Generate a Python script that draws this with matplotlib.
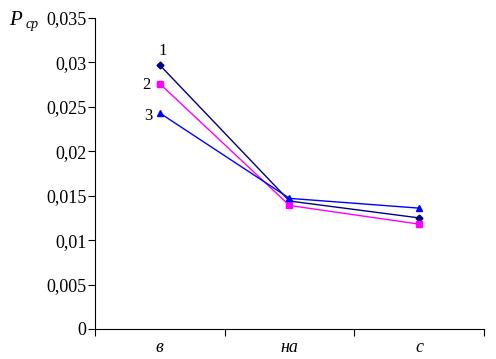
import numpy as np
import matplotlib
matplotlib.use("Agg")
import matplotlib.pyplot as plt
from matplotlib.ticker import FixedLocator

plt.rcParams['font.family'] = ['Liberation Serif', 'DejaVu Serif']
SERIF = "Liberation Serif"

categories = ["в", "на", "с"]
series1 = [0.0297, 0.0144, 0.0125]   # navy, diamonds
series2 = [0.0276, 0.0139, 0.0118]   # magenta, squares
series3 = [0.0243, 0.0147, 0.0136]   # blue, triangles
labels = ["1", "2", "3"]
yticks = [0, 0.005, 0.01, 0.015, 0.02, 0.025, 0.03, 0.035]

fig = plt.figure(figsize=(4.96, 3.59), dpi=100)
ax = fig.add_axes([0.1915, 0.0836, 0.7843, 0.8663])

x = np.arange(len(categories))
ax.plot(x, series1, color="#000080", lw=1, marker="D", ms=3.5)
ax.plot(x, series2, color="#ff00ff", lw=1, marker="s", ms=4)
ax.plot(x, series3, color="#0000ff", lw=1, marker="^", ms=4.5)

ax.set_xlim(-0.5, 2.5)
ax.set_ylim(0, 0.035)
ax.xaxis.set_major_locator(FixedLocator([-0.5, 0.5, 1.5, 2.5]))
ax.xaxis.set_minor_locator(FixedLocator(x))
ax.set_xticklabels([])
ax.set_xticklabels(categories, minor=True, style="italic", fontsize=13, family=SERIF)
ax.tick_params(axis="x", which="major", length=5, direction="out")
ax.tick_params(axis="x", which="minor", length=0, pad=7)
ax.set_yticks(yticks)
ax.set_yticklabels([("%g" % v).replace(".", ",") for v in yticks], family=SERIF, fontsize=13)
ax.tick_params(axis="y", length=5, direction="out", pad=1)

for s in ["top", "right"]:
    ax.spines[s].set_visible(False)

# series number labels
ax.annotate(labels[0], (x[0], series1[0]), xytext=(-1, 7), textcoords="offset points",
            fontsize=12, family=SERIF)
ax.annotate(labels[1], (x[0], series2[0]), xytext=(-13, -4), textcoords="offset points",
            fontsize=12, family=SERIF)
ax.annotate(labels[2], (x[0], series3[0]), xytext=(-11, -5), textcoords="offset points",
            fontsize=12, family=SERIF)

fig.text(0.018, 0.93, "P", fontsize=15, style="italic", family=SERIF)
fig.text(0.052, 0.922, "ср", fontsize=10, style="italic", family=SERIF)

fig.savefig("out.png", dpi=100)
